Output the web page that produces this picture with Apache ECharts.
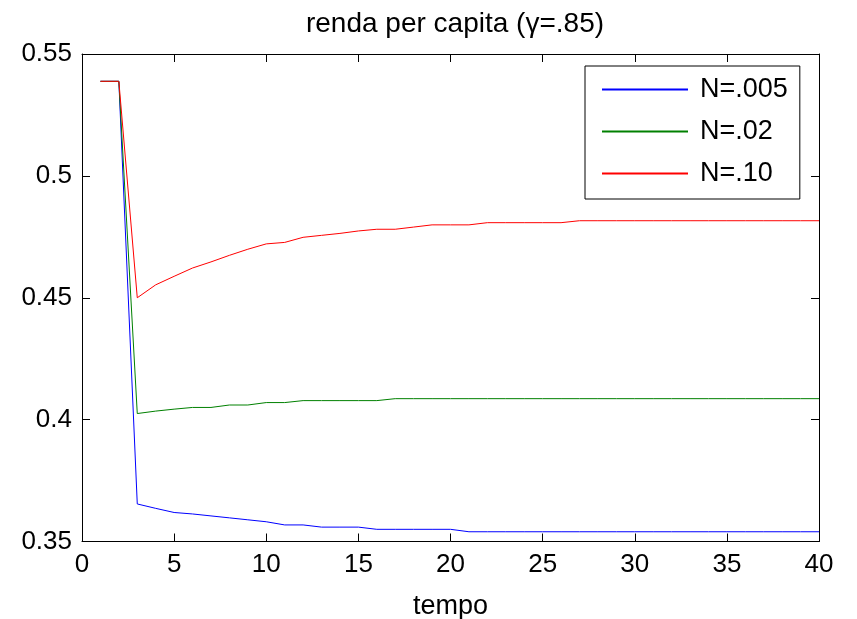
<!DOCTYPE html>
<html>
<head>
<meta charset="utf-8">
<script src="https://cdn.jsdelivr.net/npm/echarts@6/dist/echarts.min.js"></script>
<style>html,body{margin:0;padding:0;background:#fff}#c{width:857px;height:619px}</style>
</head>
<body>
<div id="c"></div>
<script>
const tempo = [1,2,3,4,5,6,7,8,9,10,11,12,13,14,15,16,17,18,19,20,21,22,23,24,25,26,27,28,29,30,31,32,33,34,35,36,37,38,39,40];
const seriesNames = ['N=.005', 'N=.02', 'N=.10'];
const n005 = [0.5388,0.5388,0.3654,0.3636,0.3619,0.3613,0.3605,0.3597,0.3589,0.3581,0.3568,0.3568,0.3559,0.3559,0.3559,0.3550,0.3550,0.3550,0.3550,0.3550,0.3540,0.3540,0.3540,0.3540,0.3540,0.3540,0.3540,0.3540,0.3540,0.3540,0.3540,0.3540,0.3540,0.3540,0.3540,0.3540,0.3540,0.3540,0.3540,0.3540];
const n02 = [0.5388,0.5388,0.4025,0.4035,0.4043,0.4050,0.4050,0.4060,0.4060,0.4070,0.4070,0.4078,0.4078,0.4078,0.4078,0.4078,0.4086,0.4086,0.4086,0.4086,0.4086,0.4086,0.4086,0.4086,0.4086,0.4086,0.4086,0.4086,0.4086,0.4086,0.4086,0.4086,0.4086,0.4086,0.4086,0.4086,0.4086,0.4086,0.4086,0.4086];
const n10 = [0.5388,0.5388,0.4500,0.4553,0.4588,0.4622,0.4647,0.4674,0.4699,0.4721,0.4727,0.4748,0.4756,0.4764,0.4774,0.4781,0.4781,0.4790,0.4799,0.4799,0.4799,0.4808,0.4808,0.4808,0.4808,0.4808,0.4816,0.4816,0.4816,0.4816,0.4816,0.4816,0.4816,0.4816,0.4816,0.4816,0.4816,0.4816,0.4816,0.4816];
const colors = ['#0000ff', '#008000', '#ff0000'];
const xTicks = {min: 0, max: 40, interval: 5};
const yTicks = {min: 0.35, max: 0.55, interval: 0.05};

const FONT = '"Liberation Sans", Arial, sans-serif';
const allData = [n005, n02, n10];
const chart = echarts.init(document.getElementById('c'), null, {renderer: 'canvas'});

const axisCommon = {
  axisLine: {show: true, onZero: false, lineStyle: {color: '#000', width: 1}},
  axisTick: {show: true, inside: true, length: 8, lineStyle: {color: '#000'}},
  splitLine: {show: false}
};

chart.setOption({
  animation: false,
  backgroundColor: '#fff',
  title: {
    text: 'renda per capita (γ=.85)',
    left: 450, top: 5, textAlign: 'center',
    textStyle: {fontFamily: FONT, fontSize: 28, fontWeight: 'normal', color: '#000'}
  },
  grid: {left: 82, top: 54, width: 737, height: 487.5, containLabel: false, outerBoundsMode: 'none'},
  legend: {
    orient: 'vertical', left: 585, top: 66,
    padding: [10, 12, 12, 17],
    itemGap: 15, itemWidth: 86, itemHeight: 2, icon: 'rect',
    borderColor: '#000', borderWidth: 1, backgroundColor: '#fff',
    textStyle: {fontFamily: FONT, fontSize: 27, color: '#000', padding: [0, 0, 0, 7]},
    data: seriesNames.map((n, i) => ({name: n, itemStyle: {color: colors[i]}}))
  },
  xAxis: [
    Object.assign({type: 'value', position: 'bottom', min: xTicks.min, max: xTicks.max, interval: xTicks.interval,
      name: 'tempo', nameLocation: 'middle', nameGap: 52,
      nameTextStyle: {fontFamily: FONT, fontSize: 27, color: '#000'},
      axisLabel: {fontFamily: FONT, fontSize: 26, color: '#000', margin: 10}}, axisCommon),
    Object.assign({type: 'value', position: 'top', min: xTicks.min, max: xTicks.max, interval: xTicks.interval,
      axisLabel: {show: false}}, axisCommon)
  ],
  yAxis: [
    Object.assign({type: 'value', position: 'left', min: yTicks.min, max: yTicks.max, interval: yTicks.interval,
      axisLabel: {fontFamily: FONT, fontSize: 26, color: '#000', margin: 10}}, axisCommon),
    Object.assign({type: 'value', position: 'right', min: yTicks.min, max: yTicks.max, interval: yTicks.interval,
      axisLabel: {show: false}}, axisCommon)
  ],
  series: seriesNames.map((name, i) => ({
    name: name, type: 'line', xAxisIndex: 0, yAxisIndex: 0,
    showSymbol: false, symbol: 'none',
    lineStyle: {color: colors[i], width: 1},
    itemStyle: {color: colors[i]},
    data: tempo.map((t, k) => [t, allData[i][k]])
  }))
});
</script>
</body>
</html>
